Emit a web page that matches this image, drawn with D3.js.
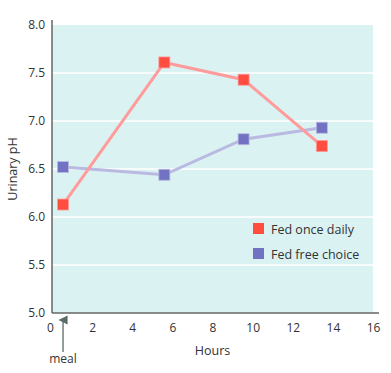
<!DOCTYPE html>
<html><head><meta charset="utf-8">
<script src="https://cdn.jsdelivr.net/npm/d3@7"></script>
<style>body{margin:0;background:#fff}svg{display:block}text{font-family:"Open Sans",sans-serif;fill:#333}</style>
</head><body>
<script>
const hours = [0.55, 5.6, 9.55, 13.45];
const fedOnceDaily = [6.13, 7.61, 7.43, 6.74];
const fedFreeChoice = [6.52, 6.44, 6.81, 6.93];
const seriesNames = ["Fed once daily", "Fed free choice"];
const xTicks = [0, 2, 4, 6, 8, 10, 12, 14, 16];
const yTicks = [5.0, 5.5, 6.0, 6.5, 7.0, 7.5, 8.0];
const mealHour = 0.55;

const W = 391, H = 373;
const svg = d3.select("body").append("svg").attr("width", W).attr("height", H);
const x = d3.scaleLinear().domain([0, 16]).range([52, 373]);
const y = d3.scaleLinear().domain([5, 8]).range([313, 25]);

svg.append("rect").attr("x", x(0)).attr("y", y(8)).attr("width", x(16) - x(0)).attr("height", y(5) - y(8)).attr("fill", "#daf2f2");

svg.append("g").selectAll("line").data(yTicks.filter(d => d > 5 && d < 8)).join("line")
  .attr("x1", x(0)).attr("x2", x(16)).attr("y1", d => y(d)).attr("y2", d => y(d))
  .attr("stroke", "#ffffff").attr("stroke-width", 1.5);

// axes
const yAxis = d3.axisLeft(y).tickValues(yTicks).tickFormat(d3.format(".1f")).tickSize(0).tickPadding(7);
const gy = svg.append("g").attr("transform", `translate(${x(0)},0)`).call(yAxis);
gy.select(".domain").remove();
gy.selectAll("text").style("font-size", "12px").attr("fill", "#333");
svg.append("line").attr("x1", x(0)).attr("x2", x(0)).attr("y1", 20).attr("y2", y(5)).attr("stroke", "#666").attr("stroke-width", 1.5);

const xAxis = d3.axisBottom(x).tickValues(xTicks).tickSize(0).tickPadding(10);
const gx = svg.append("g").attr("transform", `translate(0,${y(5)})`).call(xAxis);
gx.select(".domain").remove();
gx.selectAll("text").style("font-size", "12px").attr("fill", "#333");
gx.selectAll(".tick").filter(d => d === 0).select("text").attr("dx", -2);
svg.append("line").attr("x1", x(0)).attr("x2", 379).attr("y1", y(5)).attr("y2", y(5)).attr("stroke", "#666").attr("stroke-width", 1.5);

svg.append("text").attr("x", x(8)).attr("y", 355).attr("text-anchor", "middle").style("font-size", "12.5px").text("Hours");
svg.append("text").attr("transform", `translate(17,${y(6.5)}) rotate(-90)`).attr("text-anchor", "middle").style("font-size", "12.5px").text("Urinary pH");

// meal arrow
const defs = svg.append("defs");
defs.append("marker").attr("id", "arr").attr("viewBox", "0 0 10 10").attr("refX", 5).attr("refY", 5)
  .attr("markerWidth", 7).attr("markerHeight", 7).attr("orient", "auto")
  .append("path").attr("d", "M0,10 L5,0 L10,10 Z").attr("fill", "#5a6a6a");
svg.append("line").attr("x1", x(mealHour)).attr("x2", x(mealHour)).attr("y1", 352).attr("y2", 320)
  .attr("stroke", "#5a6a6a").attr("stroke-width", 1.3).attr("marker-end", "url(#arr)");
svg.append("text").attr("x", x(mealHour)).attr("y", 363).attr("text-anchor", "middle").style("font-size", "12px").text("meal");

const series = [
  {name: seriesNames[0], vals: fedOnceDaily, line: "#ff9b9b", mark: "#ff4d40"},
  {name: seriesNames[1], vals: fedFreeChoice, line: "#b9b9e2", mark: "#7272c2"}
];
const lineGen = d3.line().x(d => x(d[0])).y(d => y(d[1]));
series.slice().reverse().forEach(s => {
  const pts = hours.map((h, i) => [h, s.vals[i]]);
  svg.append("path").attr("d", lineGen(pts)).attr("fill", "none").attr("stroke", s.line).attr("stroke-width", 3);
});
series.forEach(s => {
  const pts = hours.map((h, i) => [h, s.vals[i]]);
  svg.append("g").selectAll("rect").data(pts).join("rect")
    .attr("x", d => x(d[0]) - 5.5).attr("y", d => y(d[1]) - 5.5).attr("width", 11).attr("height", 11)
    .attr("fill", s.mark).attr("stroke", s.line).attr("stroke-width", 0.8);
});

// legend
const lg = svg.append("g").selectAll("g").data(series).join("g")
  .attr("transform", (d, i) => `translate(253,${223 + i * 25})`);
lg.append("rect").attr("width", 11).attr("height", 11).attr("fill", d => d.mark);
lg.append("text").attr("x", 18).attr("y", 10.5).style("font-size", "12.5px").text(d => d.name);
</script>
</body></html>
